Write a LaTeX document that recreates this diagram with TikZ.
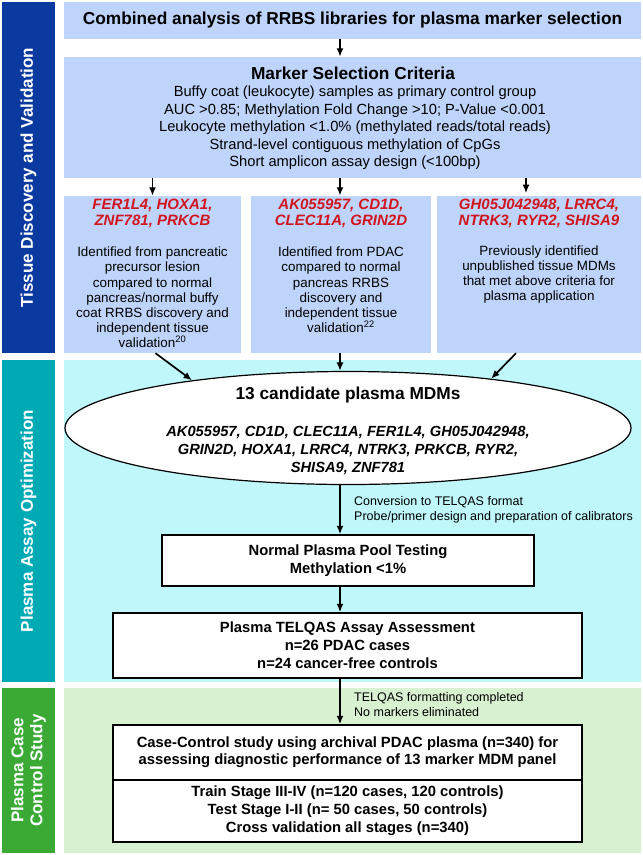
\documentclass[tikz,border=0pt]{standalone}
\usepackage{fontspec}
\setmainfont{Liberation Sans}
\usepackage{tikz}
\usetikzlibrary{positioning, calc, arrows.meta, shapes.geometric}

\definecolor{tdblue}{HTML}{0A3AA0}
\definecolor{tdpanel}{HTML}{BED4FA}
\definecolor{opteal}{HTML}{00AAB4}
\definecolor{oppanel}{HTML}{C0F7FA}
\definecolor{ccgreen}{HTML}{3AAA35}
\definecolor{ccpanel}{HTML}{D8F1D0}
\definecolor{markred}{HTML}{D2141E}

\begin{document}
\begin{tikzpicture}[x=1pt, y=-1pt,
    stagebar/.style={rectangle, rotate=90, inner sep=0pt, align=center, text=white, font=\bfseries\fontsize{17}{19}\selectfont},
    panel/.style={rectangle, inner sep=0pt},
    stepbox/.style={rectangle, draw, line width=1.4pt, fill=white, inner sep=0pt, align=center, font=\bfseries\fontsize{14.8}{18}\selectfont},
    headline/.style={font=\bfseries\fontsize{17.3}{20}\selectfont},
    genes/.style={align=center, text=markred, font=\bfseries\itshape\fontsize{15}{15.5}\selectfont},
    mdmgenes/.style={align=center, font=\bfseries\itshape\fontsize{14.7}{18}\selectfont},
    descr/.style={align=center, font=\fontsize{13.4}{15.2}\selectfont},
    criteria/.style={align=center, font=\fontsize{14.7}{17.5}\selectfont},
    note/.style={anchor=west, align=left, font=\fontsize{12.5}{15.5}\selectfont},
    flow/.style={-{Latex[length=8.5pt,width=7pt]}, line width=1.7pt}
]
    \useasboundingbox (0,0) rectangle (643,855);
    \coordinate (spine) at (340,0);

    % Stage bars
    \node[stagebar, fill=tdblue, minimum width=351pt, minimum height=53pt] (bar1) at (28.5,177.5) {Tissue Discovery and Validation};
    \node[stagebar, fill=opteal, minimum width=322pt, minimum height=53pt] (bar2) at (28.5,521) {Plasma Assay Optimization};
    \node[stagebar, fill=ccgreen, minimum width=165pt, minimum height=53pt] (bar3) at (28.5,770.5) {Plasma Case\\Control Study};

    % Tissue discovery
    \node[panel, fill=tdpanel, minimum width=577pt, minimum height=37pt, headline] (combined) at (352.5,20.5) {Combined analysis of RRBS libraries for plasma marker selection};
    \node[panel, fill=tdpanel, minimum width=577pt, minimum height=121pt] (crit) at (352.5,117.5) {};
    \node[headline] (crittitle) at (353,73) {Marker Selection Criteria};
    \node[criteria] (critlist) at (355,128) {Buffy coat (leukocyte) samples as primary control group\\
        AUC >0.85; Methylation Fold Change >10; P-Value <0.001\\
        Leukocyte methylation <1.0\% (methylated reads/total reads)\\
        Strand-level contiguous methylation of CpGs\\
        Short amplicon assay design (<100bp)};

    \node[panel, fill=tdpanel, minimum width=177pt, minimum height=157pt] (leftset) at (152.5,274.5) {};
    \node[panel, fill=tdpanel, minimum width=180pt, minimum height=157pt] (midset) at (341,274.5) {};
    \node[panel, fill=tdpanel, minimum width=204pt, minimum height=157pt] (rightset) at (539,274.5) {};

    \node[genes] (leftgenes) at (152.5,213.5) {FER1L4, HOXA1,\\ZNF781, PRKCB};
    \node[genes] (midgenes) at (341,213.5) {AK055957, CD1D,\\CLEC11A, GRIN2D};
    \node[genes] (rightgenes) at (539,213.5) {GH05J042948, LRRC4,\\NTRK3, RYR2, SHISA9};

    \node[descr] (leftdescr) at (152.5,297.5) {Identified from pancreatic\\precursor lesion\\compared to normal\\pancreas/normal buffy\\coat RRBS discovery and\\independent tissue\\validation\textsuperscript{20}};
    \node[descr] (middescr) at (341,290) {Identified from PDAC\\compared to normal\\pancreas RRBS\\discovery and\\independent tissue\\validation\textsuperscript{22}};
    \node[descr] (rightdescr) at (539,274.5) {Previously identified\\unpublished tissue MDMs\\that met above criteria for\\plasma application};

    % Plasma assay optimization
    \node[panel, fill=oppanel, minimum width=577pt, minimum height=322pt] (optpanel) at (352.5,521) {};
    \node[ellipse, draw, line width=1.2pt, fill=white, minimum width=566pt, minimum height=113pt, inner sep=0pt] (mdm) at (348,428) {};
    \node[headline] (mdmtitle) at (348,395) {13 candidate plasma MDMs};
    \node[mdmgenes] (mdmlist) at (348,450) {AK055957, CD1D, CLEC11A, FER1L4, GH05J042948,\\GRIN2D, HOXA1, LRRC4, NTRK3, PRKCB, RYR2,\\SHISA9, ZNF781};
    \node[stepbox, minimum width=372pt, minimum height=51pt] (pool) at (348,560.5) {Normal Plasma Pool Testing\\Methylation <1\%};
    \node[stepbox, minimum width=469pt, minimum height=65pt] (assay) at (347.5,645.5) {Plasma TELQAS Assay Assessment\\n=26 PDAC cases\\n=24 cancer-free controls};

    % Plasma case control study
    \node[panel, fill=ccpanel, minimum width=577pt, minimum height=165pt] (ccpanel) at (352.5,770.5) {};
    \node[stepbox, minimum width=469pt, minimum height=55pt, font=\bfseries\fontsize{14.8}{17}\selectfont] (casestudy) at (347.5,752.5) {Case-Control study using archival PDAC plasma (n=340) for\\assessing diagnostic performance of 13 marker MDM panel};
    \node[stepbox, minimum width=469pt, minimum height=62pt] (stages) at (347.5,811) {Train Stage III-IV (n=120 cases, 120 controls)\\Test Stage I-II (n= 50 cases, 50 controls)\\Cross validation all stages (n=340)};

    % Arrows
    \draw[flow] (combined.south -| spine) -- (crit.north -| spine);
    \draw[flow] (crit.south -| leftset.north) -- (leftset.north);
    \draw[flow] (crit.south -| spine) -- (midset.north -| spine);
    \draw[flow] (crit.south -| rightset.north) ++(-13,0) -- ++(0,15);
    \draw[flow] (leftset.south) ++(3,0) -- (mdm.163);
    \draw[flow] (rightset.south) ++(-23,0) -- (mdm.19);
    \draw[flow] (midset.south -| spine) -- (mdm.north -| spine);
    \draw[flow] (mdm.south -| spine) -- node[note, xshift=10pt] {Conversion to TELQAS format\\Probe/primer design and preparation of calibrators} (pool.north -| spine);
    \draw[flow] (pool.south -| spine) -- (assay.north -| spine);
    \draw[flow] (assay.south -| spine) -- node[note, xshift=10pt, yshift=-3pt] {TELQAS formatting completed\\No markers eliminated} (casestudy.north -| spine);
\end{tikzpicture}
\end{document}
